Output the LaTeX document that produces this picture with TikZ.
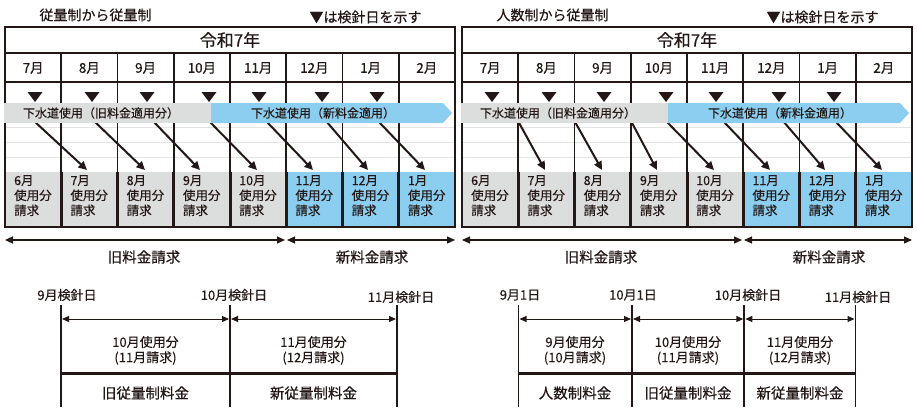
\documentclass[tikz,border=0pt]{standalone}
\usepackage{fontspec}
\setmainfont{Noto Sans CJK JP}[FakeBold=0.3]
\usetikzlibrary{arrows.meta}
\definecolor{cgray}{RGB}{220,221,221}
\definecolor{cblue}{RGB}{140,206,240}
\definecolor{ink}{RGB}{35,24,21}
\definecolor{gridc}{RGB}{228,228,228}
\newcommand\fs[1]{\fontsize{#1}{#1}\selectfont}
\tikzset{
  boxline/.style={draw=ink, line width=1.8pt},
  colline/.style={draw=ink, line width=1.6pt},
  cellline/.style={draw=ink, line width=3pt},
  gridline/.style={draw=gridc, line width=0.8pt},
  darr/.style={draw=ink, line width=2pt, -{Triangle[length=8.5pt,width=8pt]}},
  barr/.style={draw=ink, line width=1.2pt, {Triangle[length=8pt,width=7pt]}-{Triangle[length=8pt,width=7pt]}},
  sarr/.style={draw=ink, line width=1pt, {Triangle[length=7pt,width=6pt]}-{Triangle[length=7pt,width=6pt]}},
  vline/.style={draw=ink, line width=1.8pt},
  thickline/.style={draw=ink, line width=3pt},
  txt/.style={text=ink, inner sep=0pt},
  celltext/.style={txt, anchor=north west, align=left, font=\fs{12.5}, execute at begin node=\setlength{\baselineskip}{15pt}},
}
% #1 prefix, #2 xshift, #3 arrow list sx/ex, #4 title
\newcommand\drawpanel[4]{%
\begin{scope}[xshift=#2]
  \foreach \yy in {127,142,157} \draw[gridline] (5,\yy) -- (455,\yy);
  \foreach \i/\m/\c in {0/6/cgray,1/7/cgray,2/8/cgray,3/9/cgray,4/10/cgray,5/11/cblue,6/12/cblue,7/1/cblue} {
    \fill[\c] ({5+56.25*\i+1},172) rectangle ({5+56.25*(\i+1)-1},226);
    \node[celltext] (#1c\i) at ({5+56.25*\i+9},175) {\m 月\\使用分\\請求};
  }
  \foreach \i in {1,...,7} {
    \draw[colline] ({5+56.25*\i},53) -- ({5+56.25*\i},172);
    \draw[cellline] ({5+56.25*\i},172) -- ({5+56.25*\i},227);
  }
  \draw[boxline] (5,27) rectangle (455,227);
  \draw[boxline] (5,53) -- (455,53);
  \draw[boxline] (5,82) -- (455,82);
  \draw[boxline] (4,227) -- (456,227);
  \foreach \k/\sx/\ex in {#3} {
    \coordinate (#1s\k) at (\sx,121);
    \coordinate (#1e\k) at (\ex,170);
    \draw[darr] (#1s\k) -- (#1e\k);
  }
  \fill[cgray] (4,103) rectangle (211,123);
  \fill[cblue] (211,103) -- (443,103) -- (452,113) -- (443,123) -- (211,123) -- cycle;
  \node[txt, font=\fs{12}] (#1barA) at (101,113) {下水道使用（旧料金適用分）};
  \node[txt, font=\fs{12}] (#1barB) at (323,113) {下水道使用（新料金適用）};
  \foreach \tx in {35,92,147,209,259,322,377}
    \fill[ink] (\tx-7.5,92) -- (\tx+7.5,92) -- (\tx,102) -- cycle;
  \node[txt, font=\fs{17}] (#1yr) at (230,40) {令和7年};
  \foreach \i/\m in {0/7,1/8,2/9,3/10,4/11,5/12,6/1,7/2}
    \node[txt, font=\fs{13.5}] (#1m\i) at ({5+56.25*\i+28.125},68) {\m 月};
  \node[txt, font=\fs{14}] (#1title) at (95.5,15) {#4};
  \node[txt, font=\fs{14}] (#1legend) at (365.5,17) {▼は検針日を示す};
  \coordinate (#1a0) at (5,240);
  \coordinate (#1a1) at (285,240);
  \coordinate (#1a2) at (287,240);
  \coordinate (#1a3) at (455,240);
  \draw[barr] (#1a0) -- (#1a1);
  \draw[barr] (#1a2) -- (#1a3);
  \node[txt, font=\fs{14.5}] (#1old) at (144,257) {旧料金請求};
  \node[txt, font=\fs{14.5}] (#1new) at (372,257) {新料金請求};
\end{scope}}
\begin{document}
\begin{tikzpicture}[x=1pt,y=-1pt]
\useasboundingbox (0,0) rectangle (917,412);
\fill[white] (0,0) rectangle (917,412);
\drawpanel{L}{0}{1/34/87,2/94/145,3/153/200,4/209/257,5/266/313,6/326/368,7/378/425}{従量制から従量制}
\drawpanel{R}{457}{1/61/88,2/117.5/145,3/174/200,4/209/257,5/266/313,6/326/368,7/378/425}{人数制から従量制}
% ---- bottom left
\foreach \n/\x in {1/61,2/230,3/397} {
  \coordinate (LVt\n) at (\x,305);
  \coordinate (LVb\n) at (\x,407);
  \draw[vline] (LVt\n) -- (LVb\n);
}
\coordinate (LP1) at (62,319); \coordinate (LP2a) at (229,319);
\coordinate (LP2b) at (231,319); \coordinate (LP3) at (396,319);
\draw[sarr] (LP1) -- (LP2a);
\draw[sarr] (LP2b) -- (LP3);
\coordinate (LT1) at (61,373); \coordinate (LT3) at (397,373);
\draw[thickline] (LT1) -- (LT3);
\node[txt, font=\fs{13}] (Lk1) at (67,295) {9月検針日};
\node[txt, font=\fs{13}] (Lk2) at (234,295) {10月検針日};
\node[txt, font=\fs{13}] (Lk3) at (401,297) {11月検針日};
\node[txt, font=\fs{13}] (Lu1) at (145.5,342) {10月使用分};
\node[txt, font=\fs{13}] (Lb1) at (145.5,358) {(11月請求)};
\node[txt, font=\fs{13}] (Lu2) at (313.5,342) {11月使用分};
\node[txt, font=\fs{13}] (Lb2) at (313.5,358) {(12月請求)};
\node[txt, font=\fs{14.5}] (Lf1) at (145.5,393) {旧従量制料金};
\node[txt, font=\fs{14.5}] (Lf2) at (313.5,393) {新従量制料金};
% ---- bottom right
\foreach \n/\x in {1/518.5,2/632,3/744.3,4/855.5} {
  \coordinate (RVt\n) at (\x,305);
  \coordinate (RVb\n) at (\x,407);
  \draw[vline] (RVt\n) -- (RVb\n);
}
\coordinate (RP1) at (519.5,319); \coordinate (RP2a) at (631,319);
\coordinate (RP2b) at (633,319); \coordinate (RP3a) at (743.3,319);
\coordinate (RP3b) at (745.3,319); \coordinate (RP4) at (854.5,319);
\draw[sarr] (RP1) -- (RP2a);
\draw[sarr] (RP2b) -- (RP3a);
\draw[sarr] (RP3b) -- (RP4);
\coordinate (RT1) at (518.5,373); \coordinate (RT4) at (855.5,373);
\draw[thickline] (RT1) -- (RT4);
\node[txt, font=\fs{13}] (Rk1) at (520,295) {9月1日};
\node[txt, font=\fs{13}] (Rk2) at (633,295) {10月1日};
\node[txt, font=\fs{13}] (Rk3) at (748,295) {10月検針日};
\node[txt, font=\fs{13}] (Rk4) at (858,297) {11月検針日};
\node[txt, font=\fs{13}] (Ru1) at (575,342) {9月使用分};
\node[txt, font=\fs{13}] (Rb1) at (575,358) {(10月請求)};
\node[txt, font=\fs{13}] (Ru2) at (688,342) {10月使用分};
\node[txt, font=\fs{13}] (Rb2) at (688,358) {(11月請求)};
\node[txt, font=\fs{13}] (Ru3) at (800,342) {11月使用分};
\node[txt, font=\fs{13}] (Rb3) at (800,358) {(12月請求)};
\node[txt, font=\fs{14.5}] (Rf1) at (575,393) {人数制料金};
\node[txt, font=\fs{14.5}] (Rf2) at (688,393) {旧従量制料金};
\node[txt, font=\fs{14.5}] (Rf3) at (800,393) {新従量制料金};
\end{tikzpicture}
\end{document}
